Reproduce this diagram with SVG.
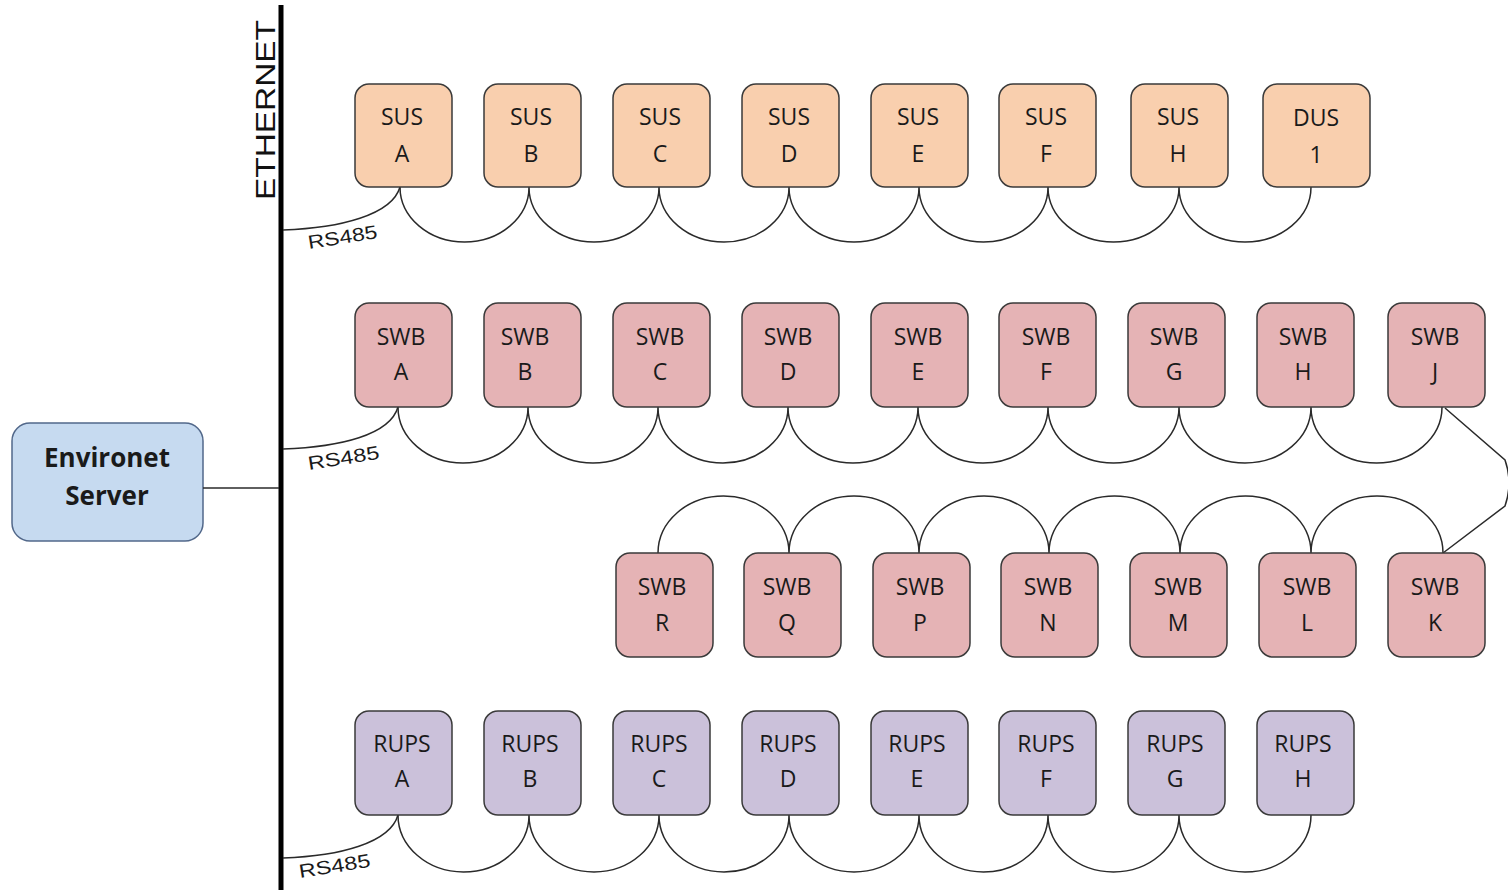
<svg xmlns="http://www.w3.org/2000/svg" width="1508" height="890" viewBox="0 0 1508 890">
<style>
.box{stroke:#3a3a3a;stroke-width:1.5}
.sus{fill:#f9cfae}
.swb{fill:#e5b3b5}
.rups{fill:#cbc1da}
.srv{fill:#c6daf0;stroke:#52688a;stroke-width:1.5}
.lbl{font-family:"Open Sans","Noto Sans",sans-serif;font-size:23px;fill:#1a1a1a;text-anchor:middle}
.srvt{font-family:"Open Sans","Noto Sans",sans-serif;font-size:26px;font-weight:bold;fill:#1a1a1a;text-anchor:middle}
.wire{fill:none;stroke:#2a2a2a;stroke-width:1.5}
.rs{font-family:"Liberation Sans",Arial,sans-serif;font-size:19px;fill:#1a1a1a}
</style>
<rect width="1508" height="890" fill="#ffffff"/>
<g id="ethernet">
<rect x="278.5" y="5" width="5" height="885" fill="#000"/>
<text transform="translate(275,110) rotate(-90)" font-family="Liberation Sans, Arial, sans-serif" font-size="28" text-anchor="middle" textLength="180" lengthAdjust="spacingAndGlyphs" fill="#111">ETHERNET</text>
</g>
<g id="server">
<rect class="srv" x="12" y="423" width="191" height="118" rx="18"/>
<text class="srvt" x="107" y="467">Environet</text>
<text class="srvt" x="107" y="505">Server</text>
</g>
<g id="connectors">
<line class="wire" x1="203" y1="488" x2="279" y2="488"/>
<path class="wire" d="M283,230 C340,228 392,215 400,187"/>
<path class="wire" d="M283,449 C340,447 390,435 398,407"/>
<path class="wire" d="M283,858 C340,856 390,843 398,815"/>
<path class="wire" d="M400,187 A64.5,55 0 0 0 529,187 A65,55 0 0 0 659,187 A65,55 0 0 0 789,187 A65,55 0 0 0 919,187 A64.5,55 0 0 0 1048,187 A65.5,55 0 0 0 1179,187 A66,55 0 0 0 1311,187"/>
<path class="wire" d="M398,407 A65,56 0 0 0 528,407 A65,56 0 0 0 658,407 A65,56 0 0 0 788,407 A65,56 0 0 0 918,407 A65,56 0 0 0 1048,407 A65.5,56 0 0 0 1179,407 A66,56 0 0 0 1311,407 A65.5,56 0 0 0 1442,407"/>
<path class="wire" d="M1445,408 L1505,460 Q1513,483 1505,506 L1443,553"/>
<path class="wire" d="M658,553 A65.5,57 0 0 1 789,553 A65,57 0 0 1 919,553 A65,57 0 0 1 1049,553 A65.5,57 0 0 1 1180,553 A65.5,57 0 0 1 1311,553 A66,57 0 0 1 1443,553"/>
<path class="wire" d="M398,815 A65.5,57 0 0 0 529,815 A65,57 0 0 0 659,815 A65,57 0 0 0 789,815 A65,57 0 0 0 919,815 A64.5,57 0 0 0 1048,815 A65.5,57 0 0 0 1179,815 A66,57 0 0 0 1311,815"/>
<text class="rs" transform="translate(309,249) rotate(-9)" textLength="70" lengthAdjust="spacingAndGlyphs">RS485</text>
<text class="rs" transform="translate(309,470) rotate(-9)" textLength="72" lengthAdjust="spacingAndGlyphs">RS485</text>
<text class="rs" transform="translate(300,878) rotate(-9)" textLength="72" lengthAdjust="spacingAndGlyphs">RS485</text>
</g>
<g id="sus-a"><rect class="box sus" x="355" y="84" width="97" height="103" rx="14"/><text class="lbl" x="402" y="125">SUS</text><text class="lbl" x="402" y="162">A</text></g>
<g id="sus-b"><rect class="box sus" x="484" y="84" width="97" height="103" rx="14"/><text class="lbl" x="531" y="125">SUS</text><text class="lbl" x="531" y="162">B</text></g>
<g id="sus-c"><rect class="box sus" x="613" y="84" width="97" height="103" rx="14"/><text class="lbl" x="660" y="125">SUS</text><text class="lbl" x="660" y="162">C</text></g>
<g id="sus-d"><rect class="box sus" x="742" y="84" width="97" height="103" rx="14"/><text class="lbl" x="789" y="125">SUS</text><text class="lbl" x="789" y="162">D</text></g>
<g id="sus-e"><rect class="box sus" x="871" y="84" width="97" height="103" rx="14"/><text class="lbl" x="918" y="125">SUS</text><text class="lbl" x="918" y="162">E</text></g>
<g id="sus-f"><rect class="box sus" x="999" y="84" width="97" height="103" rx="14"/><text class="lbl" x="1046" y="125">SUS</text><text class="lbl" x="1046" y="162">F</text></g>
<g id="sus-h"><rect class="box sus" x="1131" y="84" width="97" height="103" rx="14"/><text class="lbl" x="1178" y="125">SUS</text><text class="lbl" x="1178" y="162">H</text></g>
<g id="dus-1"><rect class="box sus" x="1263" y="84" width="107" height="103" rx="14"/><text class="lbl" x="1316" y="126">DUS</text><text class="lbl" x="1316" y="163">1</text></g>
<g id="swb-a"><rect class="box swb" x="355" y="303" width="97" height="104" rx="14"/><text class="lbl" x="401" y="345">SWB</text><text class="lbl" x="401" y="380">A</text></g>
<g id="swb-b"><rect class="box swb" x="484" y="303" width="97" height="104" rx="14"/><text class="lbl" x="525" y="345">SWB</text><text class="lbl" x="525" y="380">B</text></g>
<g id="swb-c"><rect class="box swb" x="613" y="303" width="97" height="104" rx="14"/><text class="lbl" x="660" y="345">SWB</text><text class="lbl" x="660" y="380">C</text></g>
<g id="swb-d"><rect class="box swb" x="742" y="303" width="97" height="104" rx="14"/><text class="lbl" x="788" y="345">SWB</text><text class="lbl" x="788" y="380">D</text></g>
<g id="swb-e"><rect class="box swb" x="871" y="303" width="97" height="104" rx="14"/><text class="lbl" x="918" y="345">SWB</text><text class="lbl" x="918" y="380">E</text></g>
<g id="swb-f"><rect class="box swb" x="999" y="303" width="97" height="104" rx="14"/><text class="lbl" x="1046" y="345">SWB</text><text class="lbl" x="1046" y="380">F</text></g>
<g id="swb-g"><rect class="box swb" x="1128" y="303" width="97" height="104" rx="14"/><text class="lbl" x="1174" y="345">SWB</text><text class="lbl" x="1174" y="380">G</text></g>
<g id="swb-h"><rect class="box swb" x="1257" y="303" width="97" height="104" rx="14"/><text class="lbl" x="1303" y="345">SWB</text><text class="lbl" x="1303" y="380">H</text></g>
<g id="swb-j"><rect class="box swb" x="1388" y="303" width="97" height="104" rx="14"/><text class="lbl" x="1435" y="345">SWB</text><text class="lbl" x="1435" y="380">J</text></g>
<g id="swb-r"><rect class="box swb" x="616" y="553" width="97" height="104" rx="14"/><text class="lbl" x="662" y="595">SWB</text><text class="lbl" x="662" y="631">R</text></g>
<g id="swb-q"><rect class="box swb" x="744" y="553" width="97" height="104" rx="14"/><text class="lbl" x="787" y="595">SWB</text><text class="lbl" x="787" y="631">Q</text></g>
<g id="swb-p"><rect class="box swb" x="873" y="553" width="97" height="104" rx="14"/><text class="lbl" x="920" y="595">SWB</text><text class="lbl" x="920" y="631">P</text></g>
<g id="swb-n"><rect class="box swb" x="1001" y="553" width="97" height="104" rx="14"/><text class="lbl" x="1048" y="595">SWB</text><text class="lbl" x="1048" y="631">N</text></g>
<g id="swb-m"><rect class="box swb" x="1130" y="553" width="97" height="104" rx="14"/><text class="lbl" x="1178" y="595">SWB</text><text class="lbl" x="1178" y="631">M</text></g>
<g id="swb-l"><rect class="box swb" x="1259" y="553" width="97" height="104" rx="14"/><text class="lbl" x="1307" y="595">SWB</text><text class="lbl" x="1307" y="631">L</text></g>
<g id="swb-k"><rect class="box swb" x="1388" y="553" width="97" height="104" rx="14"/><text class="lbl" x="1435" y="595">SWB</text><text class="lbl" x="1435" y="631">K</text></g>
<g id="rups-a"><rect class="box rups" x="355" y="711" width="97" height="104" rx="14"/><text class="lbl" x="402" y="752">RUPS</text><text class="lbl" x="402" y="787">A</text></g>
<g id="rups-b"><rect class="box rups" x="484" y="711" width="97" height="104" rx="14"/><text class="lbl" x="530" y="752">RUPS</text><text class="lbl" x="530" y="787">B</text></g>
<g id="rups-c"><rect class="box rups" x="613" y="711" width="97" height="104" rx="14"/><text class="lbl" x="659" y="752">RUPS</text><text class="lbl" x="659" y="787">C</text></g>
<g id="rups-d"><rect class="box rups" x="742" y="711" width="97" height="104" rx="14"/><text class="lbl" x="788" y="752">RUPS</text><text class="lbl" x="788" y="787">D</text></g>
<g id="rups-e"><rect class="box rups" x="871" y="711" width="97" height="104" rx="14"/><text class="lbl" x="917" y="752">RUPS</text><text class="lbl" x="917" y="787">E</text></g>
<g id="rups-f"><rect class="box rups" x="999" y="711" width="97" height="104" rx="14"/><text class="lbl" x="1046" y="752">RUPS</text><text class="lbl" x="1046" y="787">F</text></g>
<g id="rups-g"><rect class="box rups" x="1128" y="711" width="97" height="104" rx="14"/><text class="lbl" x="1175" y="752">RUPS</text><text class="lbl" x="1175" y="787">G</text></g>
<g id="rups-h"><rect class="box rups" x="1257" y="711" width="97" height="104" rx="14"/><text class="lbl" x="1303" y="752">RUPS</text><text class="lbl" x="1303" y="787">H</text></g>
</svg>
